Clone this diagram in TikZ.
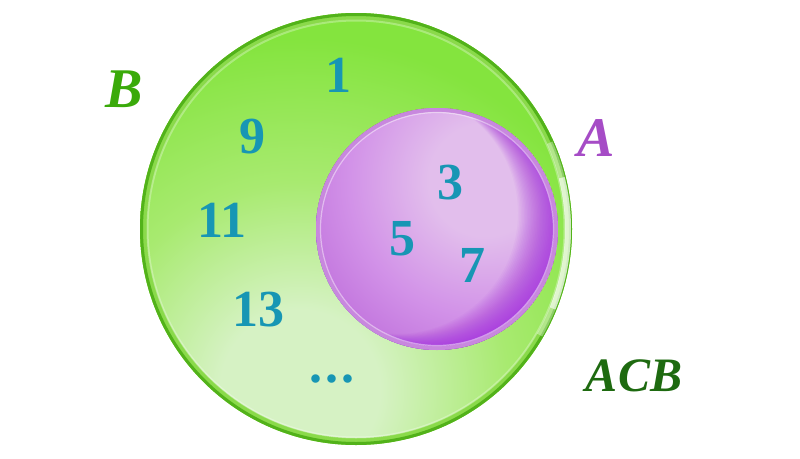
\documentclass[tikz,border=0pt]{standalone}
\usepackage{fontspec}
\setmainfont{Liberation Serif}
\definecolor{numc}{HTML}{1796B4}
\definecolor{bgreen}{HTML}{3AAA0A}
\definecolor{apurple}{HTML}{A64CC6}
\definecolor{dgreen}{HTML}{1E6A10}
\definecolor{gl}{HTML}{D6F2C4}
\definecolor{gm}{HTML}{A8EA70}
\definecolor{gd}{HTML}{84E43E}
\definecolor{grim}{HTML}{52B21A}
\definecolor{grimin}{HTML}{8ADA4A}
\definecolor{pl}{HTML}{E2BEEC}
\definecolor{pm}{HTML}{D292E8}
\definecolor{pd}{HTML}{A024DE}
\definecolor{pmid}{HTML}{BA66D8}
\definecolor{prim}{HTML}{C888DE}
\pgfdeclareradialshading{greenglow}{\pgfpoint{0bp}{0bp}}{color(0bp)=(gl); color(5bp)=(gl); color(13bp)=(gm); color(22bp)=(gd); color(80bp)=(gd)}
\pgfdeclareradialshading{purpleglow}{\pgfpoint{0bp}{0bp}}{color(0bp)=(pl); color(7bp)=(pl); color(17bp)=(pm); color(28bp)=(pmid); color(80bp)=(pmid)}
\tikzset{
  num/.style={text=numc, inner sep=0pt, font=\fontsize{52}{56}\selectfont\bfseries},
  setlabel/.style={inner sep=0pt, font=\fontsize{56}{60}\selectfont\bfseries\itshape},
}
\begin{document}
\begin{tikzpicture}[x=1pt,y=-1pt]
\useasboundingbox (0,0) rectangle (800,458);
% green set B
\begin{scope}
  \clip (356,229) circle (216);
  \shade[shading=greenglow] (-100,-10) rectangle (700,790);
\end{scope}
% rim of B
\fill[grimin, even odd rule] (356,229) circle (216) (356,229) circle (209);
\fill[grim, even odd rule] (356,229) circle (216) (356,229) circle (213);
\draw[white, opacity=0.6, line width=6] (356,229) ++(-14:212) arc[start angle=-14, end angle=22, radius=212];
\draw[white, opacity=0.35, line width=6] (356,229) ++(-24:212) arc[start angle=-24, end angle=30, radius=212];
\draw[white, opacity=0.3, line width=2] (356,229) circle (208.5);
% purple set A
\begin{scope}
  \clip (437,229) circle (121);
  \shade[shading=purpleglow] (285,-20) rectangle (685,380);
  \foreach \d in {1,2.5,...,40}
    \fill[pd, opacity=0.045, even odd rule] (437,229) circle (121) (437-\d,229-0.4*\d) circle (121);
\end{scope}
\draw[prim, line width=4] (437,229) circle (119);
\draw[white, opacity=0.45, line width=1.2] (437,229) circle (116.5);
% labels
\node[setlabel, text=bgreen] (B) at (124,89) {B};
\node[setlabel, text=apurple] (A) at (596,138) {A};
\node[setlabel, text=dgreen, font=\fontsize{48}{52}\selectfont\bfseries\itshape] (ACB) at (634,376) {ACB};
% elements
\node[num] (n1) at (338,75) {1};
\node[num] (n9) at (252,137) {9};
\node[num] (n11) at (222,220) {11};
\node[num] (n13) at (258,310) {13};
\node[num] (dots) at (332,379) {.\hspace{3pt}.\hspace{3pt}.};
\node[num] (n3) at (450,183) {3};
\node[num] (n5) at (402,239) {5};
\node[num] (n7) at (472,265) {7};
\end{tikzpicture}
\end{document}
